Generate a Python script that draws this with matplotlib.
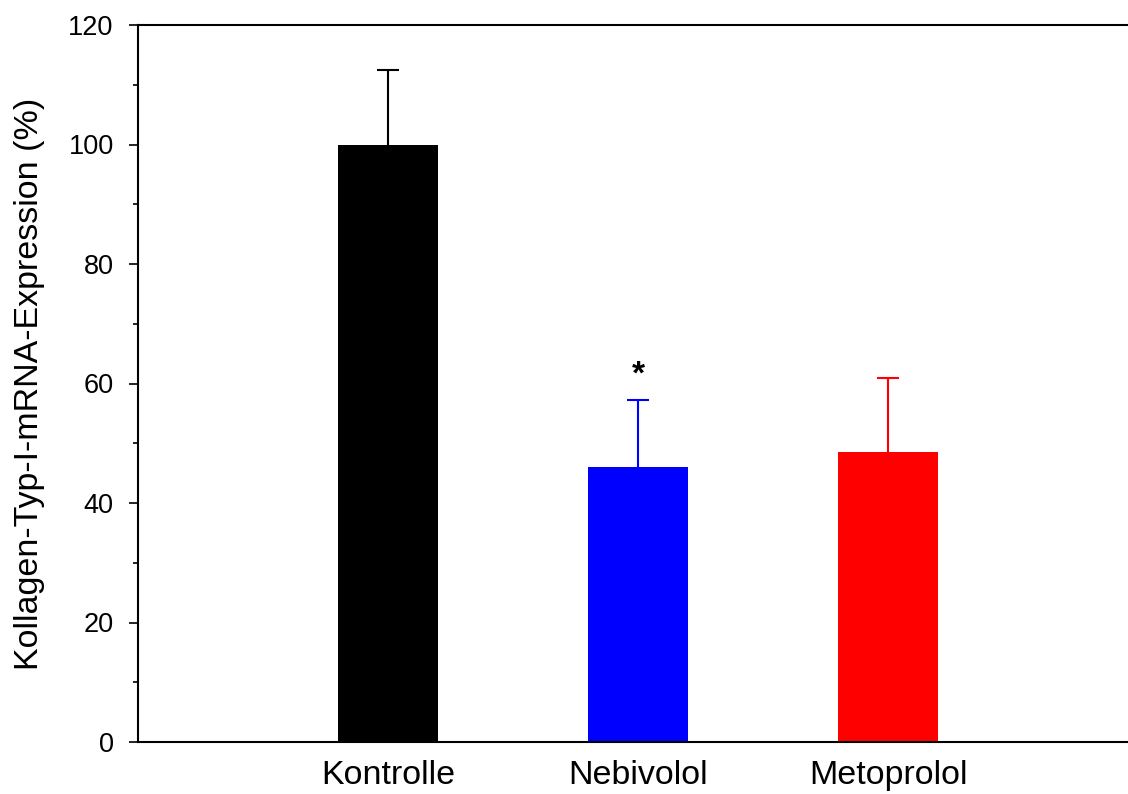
import matplotlib.pyplot as plt
from matplotlib.ticker import MultipleLocator

plt.rcParams['font.family'] = ['Liberation Sans', 'DejaVu Sans']

groups = ['Kontrolle', 'Nebivolol', 'Metoprolol']
expression = [100.0, 46.1, 48.6]
sem = [12.5, 11.1, 12.3]
colors = ['black', 'blue', 'red']

fig = plt.figure(figsize=(11.28, 7.94), dpi=100)
ax = fig.add_axes([138 / 1128, 1 - 742 / 794, (1128 - 138) / 1128, (742 - 25) / 794])

pos = [1, 2, 3]
ax.bar(pos, expression, width=0.4, color=colors, zorder=2)

# upper-only error bars with caps
cap = 0.044
for x, v, e, c in zip(pos, expression, sem, colors):
    ax.vlines(x, v, v + e, color=c, lw=1.5, zorder=1)
    ax.hlines(v + e, x - cap, x + cap, color=c, lw=1.5, zorder=1)

# significance marker above Nebivolol
ax.text(2, expression[1] + sem[1] + 4.2, '*', ha='center', va='center',
        fontsize=24, fontweight='bold')

ax.set_xlim(0, 3.96)
ax.set_ylim(0, 120)
ax.set_xticks(pos)
ax.set_xticklabels(groups, fontsize=24.5)
ax.tick_params(axis='x', length=0, pad=13)
ax.yaxis.set_major_locator(MultipleLocator(20))
ax.yaxis.set_minor_locator(MultipleLocator(10))
ax.tick_params(axis='y', which='major', length=6.5, width=1.2, labelsize=19.5, pad=11)
ax.tick_params(axis='y', which='minor', length=3.6, width=1.2)
ax.set_ylabel('Kollagen-Typ-I-mRNA-Expression (%)', fontsize=24.5, labelpad=17)

ax.spines['right'].set_visible(False)
for s in ['left', 'top', 'bottom']:
    ax.spines[s].set_linewidth(1.5)
ax.spines['top'].set_clip_on(False)

fig.savefig('out.png', dpi=100)
